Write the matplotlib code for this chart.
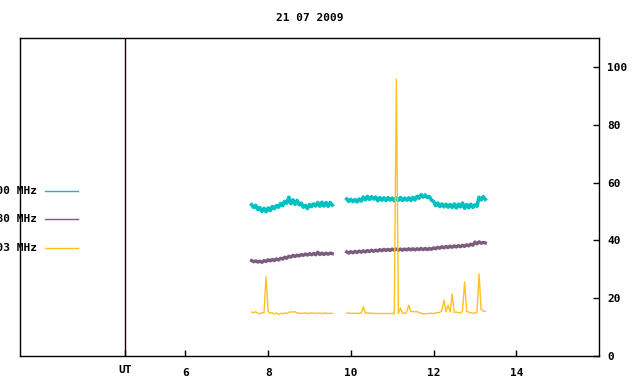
import matplotlib.pyplot as plt
from matplotlib.lines import Line2D
import numpy as np

plt.rcParams['font.family'] = ['DejaVu Sans Mono']
plt.rcParams['font.weight'] = 'bold'

# sample times (hours UT), two recording blocks
seg1_start, seg1_end = 7.60, 9.55
seg2_start, seg2_end = 9.90, 13.25

cyan_1 = [52.3, 51.4, 52.1, 50.7, 51.3, 50.0, 51.1, 49.9, 51.2, 50.3,
          51.7, 51.0, 52.0, 51.5, 52.8, 52.0, 53.5, 52.9, 54.9, 52.7,
          54.0, 52.5, 53.8, 52.3, 52.9, 51.5, 52.1, 51.0, 52.4, 51.7,
          52.6, 51.9, 53.1, 51.8, 53.2, 51.9, 53.1, 51.8, 53.1, 52.2]
cyan_2 = [54.3, 53.5, 54.2, 53.4, 54.1, 53.3, 54.3, 53.6, 55.0, 54.0,
          55.2, 54.2, 55.1, 54.3, 55.0, 53.7, 54.8, 53.9, 54.7, 53.8,
          54.8, 54.0, 54.6, 53.7, 54.7, 53.9, 54.8, 53.8, 54.6, 53.9,
          54.7, 53.8, 54.9, 54.0, 55.2, 54.6, 55.8, 55.0, 55.7, 54.8,
          55.1, 53.9, 53.5, 52.0, 52.9, 51.7, 52.6, 51.6, 52.5, 51.5,
          52.4, 51.4, 52.6, 51.2, 52.5, 51.6, 52.9, 51.1, 52.4, 51.3,
          52.5, 51.4, 52.3, 51.8, 54.9, 54.0, 55.1, 54.2]

purple_1 = [33.0, 32.6, 32.9, 32.5, 32.8, 32.4, 33.0, 32.7, 33.3, 32.9,
            33.4, 33.0, 33.6, 33.2, 33.8, 33.5, 34.2, 33.8, 34.5, 34.2,
            34.8, 34.4, 34.9, 34.6, 35.1, 34.8, 35.3, 34.9, 35.4, 35.0,
            35.5, 35.0, 35.9, 35.1, 35.6, 35.1, 35.6, 35.2, 35.6, 35.4]
purple_2 = [36.0, 35.6, 36.1, 35.7, 36.2, 35.8, 36.3, 35.9, 36.4, 36.0,
            36.5, 36.1, 36.6, 36.2, 36.6, 36.3, 36.8, 36.4, 36.9, 36.5,
            36.9, 36.5, 37.0, 36.6, 37.0, 36.6, 37.0, 36.6, 37.0, 36.7,
            37.1, 36.7, 37.1, 36.7, 37.1, 36.8, 37.2, 36.8, 37.2, 36.8,
            37.2, 36.9, 37.4, 37.1, 37.6, 37.3, 37.8, 37.4, 37.9, 37.5,
            38.0, 37.6, 38.1, 37.7, 38.2, 37.8, 38.3, 37.9, 38.5, 38.1,
            38.7, 38.3, 39.4, 38.8, 39.5, 39.0, 39.3, 39.1]

yellow_1 = [15.2, 15.0, 15.3, 14.8, 14.6, 15.0, 14.9, 27.5, 15.4, 14.8,
            15.0, 14.5, 14.9, 14.3, 14.8, 14.6, 14.9, 14.7, 15.1, 15.3,
            15.2, 15.3, 14.9, 14.8, 14.7, 14.8, 14.9, 14.7, 14.8, 14.9,
            14.8, 14.7, 14.9, 14.8, 14.7, 14.8, 14.9, 14.6, 14.8, 14.7]
yellow_2 = [14.8, 14.9, 14.7, 14.8, 14.8, 14.7, 14.8, 14.8, 17.1, 14.8,
            14.9, 14.8, 14.8, 14.7, 14.7, 14.7, 14.7, 14.7, 14.7, 14.7,
            14.7, 14.7, 14.7, 14.7, 95.8, 14.7, 16.6, 14.7, 14.8, 15.1,
            17.6, 15.3, 15.4, 15.3, 15.4, 15.0, 14.8, 14.6, 14.6, 14.7,
            14.7, 14.8, 14.7, 14.9, 15.0, 15.1, 15.6, 19.4, 15.3, 17.6,
            15.2, 21.4, 15.1, 15.2, 15.0, 14.8, 15.6, 25.6, 15.4, 15.2,
            14.9, 14.8, 14.9, 15.0, 28.4, 16.0, 15.6, 15.4]

labels = ['2000 MHz', '2880 MHz', '1203 MHz']
colors = ['#00c0c0', '#7a5c7c', '#ffc020']

ut_mark = 4.55
xticks = [ut_mark, 6, 8, 10, 12, 14]
xticklabels = ['UT', '6', '8', '10', '12', '14']

t1 = np.linspace(seg1_start, seg1_end, len(cyan_1))
t2 = np.linspace(seg2_start, seg2_end, len(cyan_2))

fig = plt.figure(figsize=(6.4, 3.84), dpi=100)
ax = fig.add_axes([20 / 640, 28 / 384, 579 / 640, 318 / 384])

ax.plot(t1, cyan_1, color=colors[0], lw=2.6)
ax.plot(t2, cyan_2, color=colors[0], lw=2.6)
ax.plot(t1, purple_1, color=colors[1], lw=2.4)
ax.plot(t2, purple_2, color=colors[1], lw=2.4)
ax.plot(t1, yellow_1, color=colors[2], lw=1.0)
ax.plot(t2, yellow_2, color=colors[2], lw=1.0)

ax.axvline(ut_mark, color='#200000', lw=1)

ax.set_xlim(2, 16)
ax.set_ylim(0, 110)
ax.set_xticks(xticks)
ax.set_xticklabels(xticklabels)
ax.set_yticks([0, 20, 40, 60, 80, 100])
ax.yaxis.tick_right()
ax.tick_params(axis='both', direction='in', length=4, labelsize=8, width=1)
ax.tick_params(axis='x', pad=9)
ax.tick_params(axis='y', pad=6)
ax.get_xticklabels()[0].set_y(0.012)
for s in ax.spines.values():
    s.set_linewidth(1)
ax.set_title('21 07 2009', fontsize=8, fontweight='bold', pad=12)

# legend drawn by hand at the far left (partly clipped like the original)
leg_y = [191, 219, 248]
for lab, c, yp in zip(labels, colors, leg_y):
    fig.text(37 / 640, 1 - yp / 384, lab, ha='right', va='center', fontsize=8, fontweight='bold')
    fig.add_artist(Line2D([45 / 640, 78 / 640], [1 - yp / 384, 1 - yp / 384], color=c, lw=1))

fig.savefig('out.png', dpi=100)
